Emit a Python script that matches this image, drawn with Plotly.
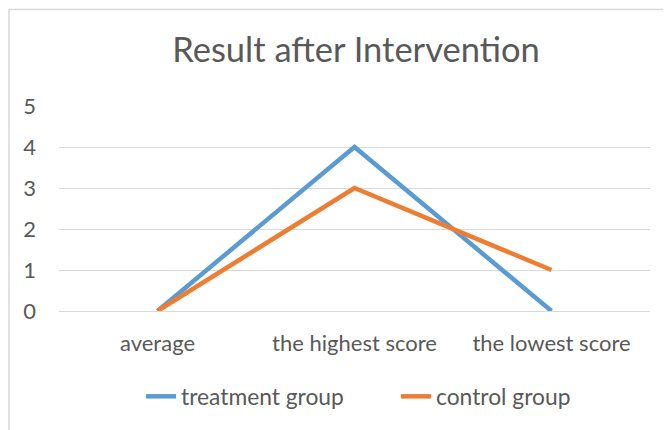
import plotly.graph_objects as go

categories = ["average", "the highest score", "the lowest score"]
treatment = [0, 4, 0]
control = [0, 3, 1]
y_ticks = [0, 1, 2, 3, 4, 5]

W, H = 671, 430
OFF = 8  # page body margin
L, T = 59 - OFF, 106 - OFF
pw = 591
ph = 205
R = W - L - pw
B = H - T - ph

font = "Lato, 'Open Sans', sans-serif"
grey = "#595959"

fig = go.Figure()
fig.add_trace(go.Scatter(x=categories, y=treatment, mode="lines", name="treatment group",
                         line=dict(color="#5B9BD5", width=4.5)))
fig.add_trace(go.Scatter(x=categories, y=control, mode="lines", name="control group",
                         line=dict(color="#ED7D31", width=4.5)))

fig.update_layout(
    width=W, height=H,
    margin=dict(l=L, r=R, t=T, b=B),
    paper_bgcolor="white", plot_bgcolor="white",
    font=dict(family=font, color=grey, size=22),
    title=dict(text="Result after Intervention", x=(356 - OFF) / W, xanchor="center",
               y=1 - (50 - OFF) / H, yanchor="middle", font=dict(size=34.5, color=grey)),
    showlegend=True,
    legend=dict(orientation="h", x=(141 - OFF - L) / pw, xanchor="left",
                y=-(397 - 311 - 22) / ph, yanchor="top",
                entrywidth=210, entrywidthmode="pixels",
                font=dict(size=22.8, color=grey)),
    xaxis=dict(showgrid=False, showline=False, zeroline=False, ticks="",
               ticklabelstandoff=17, range=[-0.5, 2.5]),
    yaxis=dict(range=[0, 5], tickvals=y_ticks, showgrid=True, gridcolor="#D9D9D9",
               gridwidth=1.3, zeroline=True, zerolinecolor="#D9D9D9", zerolinewidth=1.3,
               showline=False, ticks="", ticklabelstandoff=22),
    shapes=[dict(type="rect", xref="paper", yref="paper",
                 x0=(1 - L) / pw, x1=(W + 10 - L) / pw,
                 y0=-(H + 10 - (H - B)) / ph, y1=(H - B - 1.5) / ph,
                 line=dict(color="#D9D9D9", width=1.5), fillcolor="rgba(0,0,0,0)",
                 layer="below")],
)

fig.write_html("out.html")
